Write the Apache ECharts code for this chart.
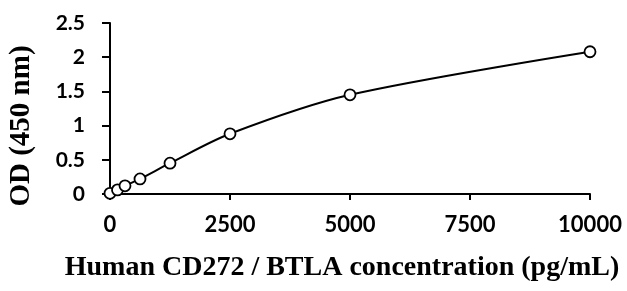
<!DOCTYPE html>
<html>
<head>
<meta charset="utf-8">
<script src="https://cdn.jsdelivr.net/npm/echarts@6/dist/echarts.min.js"></script>
<style>
  html, body { margin: 0; padding: 0; background: #fff; }
  #chart { width: 627px; height: 291px; }
</style>
</head>
<body>
<div id="chart"></div>
<script>
const concentrations = [0, 156.25, 312.5, 625, 1250, 2500, 5000, 10000];
const odValues = [0.01, 0.06, 0.12, 0.22, 0.45, 0.88, 1.45, 2.08];
const xTicks = [0, 2500, 5000, 7500, 10000];
const yTicks = [0, 0.5, 1, 1.5, 2, 2.5];

const chart = echarts.init(document.getElementById('chart'));
const points = concentrations.map((c, i) => [c, odValues[i]]);

const titleFont = {
  fontFamily: 'Liberation Serif',
  fontWeight: 'bold',
  fontSize: 28,
  color: '#000'
};

const option = {
  animation: false,
  grid: { left: 110, right: 37, top: 23, bottom: 97, outerBoundsMode: 'none' },
  xAxis: {
    type: 'value',
    min: xTicks[0],
    max: xTicks[xTicks.length - 1],
    interval: xTicks[1] - xTicks[0],
    name: 'Human CD272 / BTLA concentration (pg/mL)',
    nameLocation: 'middle',
    nameGap: 60,
    nameTextStyle: Object.assign({}, titleFont, { padding: [0, 16, 0, 0] }),
    axisLine: { show: true, lineStyle: { color: '#000', width: 2 } },
    axisTick: { show: true, length: 6, lineStyle: { color: '#000', width: 2 } },
    axisLabel: {
      margin: 20,
      fontFamily: 'Lato',
      fontWeight: 'bold',
      fontSize: 22,
      color: '#000',
      formatter: v => String(v)
    },
    splitLine: { show: false }
  },
  yAxis: {
    type: 'value',
    min: yTicks[0],
    max: yTicks[yTicks.length - 1],
    interval: yTicks[1] - yTicks[0],
    name: 'OD (450 nm)',
    nameLocation: 'middle',
    nameGap: 74,
    nameRotate: 90,
    nameTextStyle: Object.assign({}, titleFont, { fontSize: 29, padding: [0, 35, 0, 0] }),
    axisLine: { show: true, lineStyle: { color: '#000', width: 2 } },
    axisTick: { show: true, length: 8, lineStyle: { color: '#000', width: 2 } },
    axisLabel: {
      margin: 25,
      fontFamily: 'Lato',
      fontWeight: 'bold',
      fontSize: 21,
      color: '#000',
      formatter: v => String(v)
    },
    splitLine: { show: false }
  },
  series: [
    {
      type: 'line',
      data: points,
      smooth: 0.3,
      symbol: 'circle',
      symbolSize: 11,
      lineStyle: { color: '#000', width: 2 },
      itemStyle: { color: '#fff', borderColor: '#000', borderWidth: 1.8 }
    }
  ]
};

chart.setOption(option);
</script>
</body>
</html>
